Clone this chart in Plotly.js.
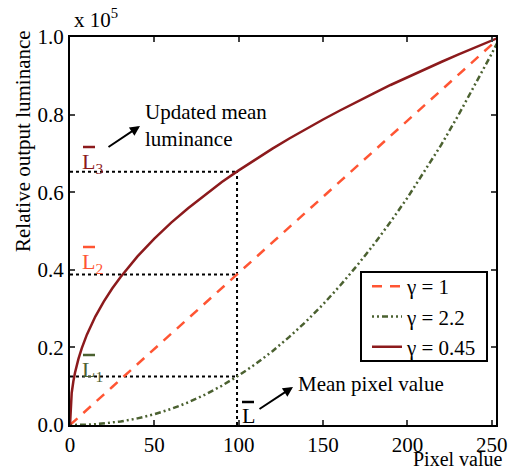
<!DOCTYPE html>
<html>
<head>
<meta charset="utf-8">
<script src="https://cdn.plot.ly/plotly-3.0.1.min.js"></script>
<style>html,body{margin:0;padding:0;background:#fff;}#chart{width:511px;height:470px;}</style>
</head>
<body>
<div id="chart"></div>
<script>
// Pixel values (x) and relative output luminance (x 10^5) for each gamma
var pixelValues = [0, 0.5, 1, 2, 3, 5, 7, 10, 15, 20, 25, 30, 40, 50, 60, 70, 80, 90, 100, 110, 120, 130, 140, 150, 160, 170, 180, 190, 200, 210, 220, 230, 240, 250, 255];
var lumGamma1 = [0, 0.002, 0.0039, 0.0078, 0.0118, 0.0196, 0.0275, 0.0392, 0.0588, 0.0784, 0.098, 0.1176, 0.1569, 0.1961, 0.2353, 0.2745, 0.3137, 0.3529, 0.3922, 0.4314, 0.4706, 0.5098, 0.549, 0.5882, 0.6275, 0.6667, 0.7059, 0.7451, 0.7843, 0.8235, 0.8627, 0.902, 0.9412, 0.9804, 1.0];
var lumGamma22 = [0, 0, 0.000005, 0.00002, 0.00006, 0.00018, 0.00037, 0.0008, 0.002, 0.0037, 0.006, 0.009, 0.017, 0.0278, 0.0415, 0.0581, 0.0781, 0.1012, 0.1276, 0.1572, 0.1903, 0.227, 0.2671, 0.3109, 0.3588, 0.4102, 0.4649, 0.5236, 0.5857, 0.6525, 0.7218, 0.7969, 0.8755, 0.9573, 1.0];
var lumGamma045 = [0, 0.0605, 0.0826, 0.1128, 0.1355, 0.1705, 0.1983, 0.2328, 0.2795, 0.318, 0.3517, 0.3817, 0.4347, 0.4805, 0.5215, 0.5588, 0.5936, 0.6262, 0.6563, 0.6852, 0.7124, 0.7385, 0.7634, 0.7874, 0.8106, 0.8334, 0.8547, 0.8763, 0.8967, 0.9164, 0.9356, 0.9547, 0.9731, 0.9911, 1.0];
var seriesNames = ['\u03b3 = 1', '\u03b3 = 2.2', '\u03b3 = 0.45'];
// Mean pixel value and the mean luminances it maps to
var meanPixel = 99;
var meanLum = [0.125, 0.388, 0.653]; // L1 (gamma 2.2), L2 (gamma 1), L3 (gamma 0.45)
var xTicks = [0, 50, 100, 150, 200, 250];
var yTicks = [0, 0.2, 0.4, 0.6, 0.8, 1.0];

var cRed = '#8C1A1C', cOrange = '#FF5533', cGreen = '#4B6130';
var FONT = '"Liberation Serif", serif';

var traces = [];
// guide lines (dotted)
meanLum.forEach(function (L) {
  traces.push({x: [0, meanPixel], y: [L, L], mode: 'lines', showlegend: false, hoverinfo: 'skip',
    line: {color: '#000', width: 2, dash: 'dot'}});
});
traces.push({x: [meanPixel, meanPixel], y: [0, meanLum[2]], mode: 'lines', showlegend: false, hoverinfo: 'skip',
  line: {color: '#000', width: 2, dash: 'dot'}});
traces.push({x: pixelValues, y: lumGamma1, name: seriesNames[0], mode: 'lines',
  line: {color: cOrange, width: 2.5, dash: '10px,8px'}});
traces.push({x: pixelValues, y: lumGamma22, name: seriesNames[1], mode: 'lines',
  line: {color: cGreen, width: 2.5, dash: '2px,3px,2px,3px,6px,3px'}});
traces.push({x: pixelValues, y: lumGamma045, name: seriesNames[2], mode: 'lines',
  line: {color: cRed, width: 2.5}});

var L = 70, T = 37, W = 426, H = 388;
function px(X) { return (X - L) / W; }
function py(Y) { return (T + H - Y) / H; }

function bar(x1, x2, y, color) {
  return {type: 'line', xref: 'paper', yref: 'paper', x0: px(x1), x1: px(x2), y0: py(y), y1: py(y),
    line: {color: color, width: 2.5}};
}
function lbl(text, X, Y, color) {
  return {text: text, xref: 'paper', yref: 'paper', x: px(X), y: py(Y), xanchor: 'left', yanchor: 'middle',
    showarrow: false, font: {family: FONT, size: 22, color: color}};
}

var layout = {
  width: 511, height: 470,
  margin: {l: L, r: 511 - L - W, t: T, b: 470 - T - H},
  paper_bgcolor: '#fff', plot_bgcolor: '#fff',
  font: {family: FONT, size: 21, color: '#000'},
  xaxis: {range: [0, 252.5], tickvals: xTicks, ticktext: xTicks.map(String), ticks: 'inside', ticklen: 5, tickwidth: 2,
    showline: true, linewidth: 2, linecolor: '#000', mirror: 'ticks', showgrid: false, zeroline: false,
    tickfont: {family: FONT, size: 21, color: '#000'}},
  yaxis: {range: [0, 1.0], tickvals: yTicks, ticktext: yTicks.map(function (v) { return v.toFixed(1); }),
    ticks: 'inside', ticklen: 5, tickwidth: 2,
    showline: true, linewidth: 2, linecolor: '#000', mirror: 'ticks', showgrid: false, zeroline: false,
    tickfont: {family: FONT, size: 21, color: '#000'}},
  legend: {x: px(367), y: py(266), xanchor: 'left', yanchor: 'top', bgcolor: 'rgba(0,0,0,0)', borderwidth: 0,
    font: {family: FONT, size: 21, color: '#000'}, tracegroupgap: 0},
  shapes: [
    {type: 'rect', xref: 'paper', yref: 'paper', x0: px(361), x1: px(487), y0: py(272), y1: py(361),
      fillcolor: '#fff', line: {color: '#000', width: 2}, layer: 'above'},
    bar(83, 95, 147, cRed),
    bar(83, 95, 247, cOrange),
    bar(83, 95, 355, cGreen),
    bar(242, 254, 402, '#000')
  ],
  annotations: [
    {text: 'Relative output luminance', xref: 'paper', yref: 'paper', x: px(23), y: py(141), xanchor: 'center', yanchor: 'middle',
      textangle: -90, showarrow: false, font: {family: FONT, size: 21}},
    lbl('L<sub>3</sub>', 80, 163, cRed),
    lbl('L<sub>2</sub>', 80, 263, cOrange),
    lbl('L<sub>1</sub>', 80, 371, cGreen),
    lbl('L', 240, 415, '#000'),
    {text: 'Updated mean<br>luminance', xref: 'paper', yref: 'paper', x: px(143), y: py(98), xanchor: 'left', yanchor: 'top',
      align: 'left', showarrow: false, font: {family: FONT, size: 21}},
    {text: 'Mean pixel value', xref: 'paper', yref: 'paper', x: px(296), y: py(384), xanchor: 'left', yanchor: 'middle',
      showarrow: false, font: {family: FONT, size: 21}},
    {text: '', xref: 'paper', yref: 'paper', x: px(140), y: py(126), ax: -33, ay: 22, showarrow: true,
      arrowhead: 2, arrowsize: 1, arrowwidth: 2, arrowcolor: '#000'},
    {text: '', xref: 'paper', yref: 'paper', x: px(293), y: py(387), ax: -35, ay: 23, showarrow: true,
      arrowhead: 2, arrowsize: 1, arrowwidth: 2, arrowcolor: '#000'},
    {text: 'x 10<sup>5</sup>', xref: 'paper', yref: 'paper', x: px(72), y: py(34), xanchor: 'left', yanchor: 'bottom',
      showarrow: false, font: {family: FONT, size: 21}},
    {text: 'Pixel value', xref: 'paper', yref: 'paper', x: px(505), y: py(472), xanchor: 'right', yanchor: 'bottom',
      showarrow: false, font: {family: FONT, size: 20}}
  ]
};

Plotly.newPlot('chart', traces, layout, {displayModeBar: false, staticPlot: true});
</script>
</body>
</html>
